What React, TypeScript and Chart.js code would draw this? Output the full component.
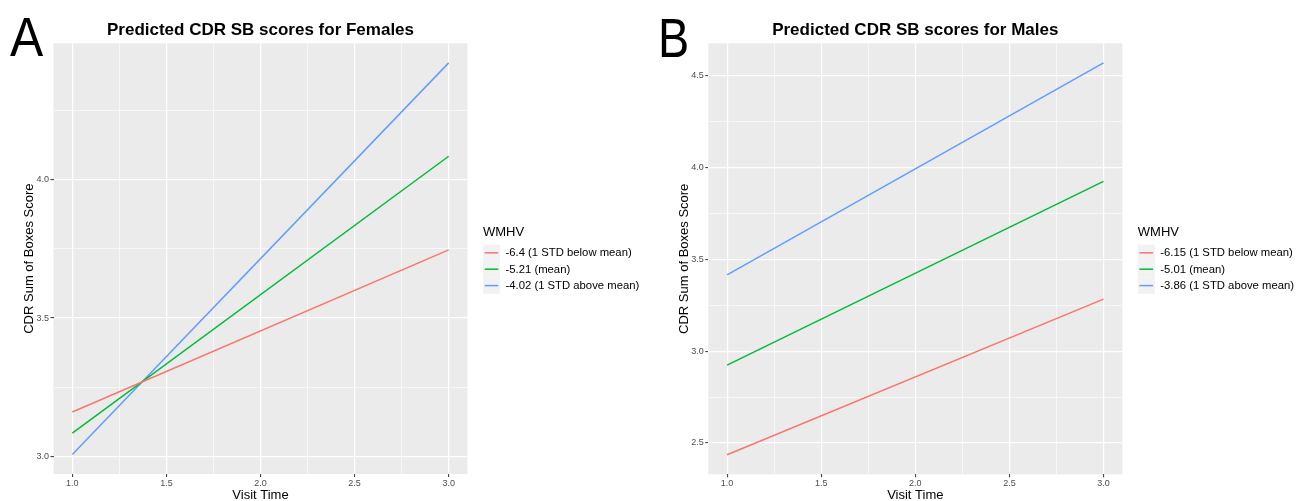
import React, { useEffect, useRef } from 'react';
import { Chart, registerables } from 'chart.js';

Chart.register(...registerables);

// ---------- data ----------
const visitTimes = [1, 3];
const xTicks = [1, 1.25, 1.5, 1.75, 2, 2.25, 2.5, 2.75, 3];
const legendTitle = 'WMHV';
const seriesColors = ['#F8766D', '#00BA38', '#619CFF'];

const femaleTitle = 'Predicted CDR SB scores for Females';
const femaleLabels = ['-6.4 (1 STD below mean)', '-5.21 (mean)', '-4.02 (1 STD above mean)'];
const femaleBelow = [3.161, 3.746];
const femaleMean = [3.085, 4.084];
const femaleAbove = [3.008, 4.421];
const femaleYTicks = [3.0, 3.25, 3.5, 3.75, 4.0, 4.25];

const maleTitle = 'Predicted CDR SB scores for Males';
const maleLabels = ['-6.15 (1 STD below mean)', '-5.01 (mean)', '-3.86 (1 STD above mean)'];
const maleBelow = [2.436, 3.283];
const maleMean = [2.924, 3.924];
const maleAbove = [3.415, 4.569];
const maleYTicks = [2.5, 2.75, 3.0, 3.25, 3.5, 3.75, 4.0, 4.25, 4.5];

const xTitle = 'Visit Time';
const yTitle = 'CDR Sum of Boxes Score';

// ---------- helpers ----------
const FONT = "'Liberation Sans', Arial, sans-serif";
const H = 501;

const isMajor = (v: number) => Math.abs(v * 2 - Math.round(v * 2)) < 1e-6;

function expand(vals: number[]) {
  const mn = Math.min(...vals);
  const mx = Math.max(...vals);
  const pad = (mx - mn) * 0.05;
  return [mn - pad, mx + pad];
}

type PanelCfg = {
  offset: number;
  width: number;
  area: { left: number; right: number; top: number; bottom: number };
  title: string;
  labels: string[];
  series: number[][];
  yTicks: number[];
  letter: string;
};

const panels: PanelCfg[] = [
  {
    offset: 0,
    width: 650,
    area: { left: 53.5, right: 467.5, top: 43.3, bottom: 474 },
    title: femaleTitle,
    labels: femaleLabels,
    series: [femaleBelow, femaleMean, femaleAbove],
    yTicks: femaleYTicks,
    letter: 'A',
  },
  {
    offset: 650,
    width: 656,
    area: { left: 58.3, right: 472.3, top: 43.3, bottom: 474.3 },
    title: maleTitle,
    labels: maleLabels,
    series: [maleBelow, maleMean, maleAbove],
    yTicks: maleYTicks,
    letter: 'B',
  },
];

const bgPlugin = {
  id: 'ggBackground',
  beforeDraw(chart: any) {
    const { ctx, chartArea: a } = chart;
    ctx.save();
    ctx.fillStyle = '#EBEBEB';
    ctx.fillRect(a.left, a.top, a.right - a.left, a.bottom - a.top);
    ctx.restore();
  },
};

const decorPlugin = {
  id: 'ggDecor',
  afterDraw(chart: any, _args: any, opts: any) {
    const { ctx, chartArea: a } = chart;
    ctx.save();
    // title
    ctx.fillStyle = '#000';
    ctx.font = `bold 17px ${FONT}`;
    ctx.textAlign = 'center';
    ctx.textBaseline = 'alphabetic';
    ctx.fillText(opts.title, (a.left + a.right) / 2, 35);
    // x title
    ctx.font = `13px ${FONT}`;
    ctx.fillText(xTitle, (a.left + a.right) / 2, 498.5);
    // y title
    ctx.save();
    ctx.translate(a.left - 20.5, (a.top + a.bottom) / 2);
    ctx.rotate(-Math.PI / 2);
    ctx.fillText(yTitle, 0, 0);
    ctx.restore();
    // legend
    const lx = a.right + 15.5;
    ctx.textAlign = 'left';
    ctx.font = `13px ${FONT}`;
    ctx.fillText(legendTitle, lx, 236);
    const rowH = 16.4;
    const top0 = 244.6;
    chart.data.datasets.forEach((ds: any, i: number) => {
      const y0 = top0 + i * rowH;
      ctx.fillStyle = '#F2F2F2';
      ctx.fillRect(lx, y0, 17, rowH);
      ctx.strokeStyle = ds.borderColor;
      ctx.lineWidth = 1.5;
      ctx.beginPath();
      ctx.moveTo(lx + 1.7, y0 + rowH / 2);
      ctx.lineTo(lx + 15.3, y0 + rowH / 2);
      ctx.stroke();
      ctx.fillStyle = '#000';
      ctx.font = `11.3px ${FONT}`;
      ctx.textBaseline = 'middle';
      ctx.fillText(ds.label, lx + 22.5, y0 + rowH / 2 + 0.5);
    });
    ctx.restore();
  },
};

function Panel({ cfg }: { cfg: PanelCfg }) {
  const ref = useRef<HTMLCanvasElement>(null);
  useEffect(() => {
    const [xmin, xmax] = expand(visitTimes);
    const [ymin, ymax] = expand(cfg.series.flat());
    const { area, width } = cfg;
    const gridWidth = (c: any) => (c.tick && isMajor(c.tick.value) ? 1.2 : 0.6);
    const tickCol = (c: any) => (c.tick && isMajor(c.tick.value) ? '#333333' : 'rgba(0,0,0,0)');
    const label = (v: any) => (isMajor(Number(v)) ? Number(v).toFixed(1) : '');
    const chart = new Chart(ref.current!, {
      type: 'line',
      data: {
        datasets: cfg.series.map((s, i) => ({
          label: cfg.labels[i],
          data: visitTimes.map((x, j) => ({ x, y: s[j] })),
          borderColor: seriesColors[i],
          backgroundColor: seriesColors[i],
          borderWidth: 1.5,
          pointRadius: 0,
          fill: false,
          tension: 0,
        })),
      },
      options: {
        animation: false,
        responsive: false,
        maintainAspectRatio: false,
        devicePixelRatio: 1,
        events: [],
        layout: {
          padding: { left: 0, top: area.top, right: width - area.right, bottom: 0 },
        },
        plugins: {
          legend: { display: false },
          title: { display: false },
          tooltip: { enabled: false },
          ggDecor: { title: cfg.title },
        } as any,
        scales: {
          x: {
            type: 'linear',
            min: xmin,
            max: xmax,
            afterBuildTicks: (s: any) => {
              s.ticks = xTicks.map((v) => ({ value: v }));
            },
            afterFit: (s: any) => {
              s.height = H - area.bottom;
            },
            border: { display: false },
            grid: {
              color: '#FFFFFF',
              lineWidth: gridWidth,
              tickColor: tickCol,
              tickLength: 3,
              tickWidth: 1,
            } as any,
            ticks: {
              autoSkip: false,
              maxRotation: 0,
              padding: 1,
              color: '#4D4D4D',
              font: { family: FONT, size: 9 },
              callback: label,
            },
          },
          y: {
            type: 'linear',
            min: ymin,
            max: ymax,
            afterBuildTicks: (s: any) => {
              s.ticks = cfg.yTicks.map((v) => ({ value: v }));
            },
            afterFit: (s: any) => {
              s.width = area.left;
            },
            border: { display: false },
            grid: {
              color: '#FFFFFF',
              lineWidth: gridWidth,
              tickColor: tickCol,
              tickLength: 3,
              tickWidth: 1,
            } as any,
            ticks: {
              autoSkip: false,
              padding: 1.5,
              color: '#4D4D4D',
              font: { family: FONT, size: 9 },
              callback: label,
            },
          },
        },
      },
      plugins: [bgPlugin, decorPlugin],
    });
    return () => chart.destroy();
  }, [cfg]);
  return (
    <canvas
      ref={ref}
      width={cfg.width}
      height={H}
      style={{ position: 'absolute', left: cfg.offset, top: 0, width: cfg.width, height: H }}
    />
  );
}

export default function App() {
  return (
    <div style={{ position: 'absolute', left: 0, top: 0, width: 1306, height: H, background: '#fff', overflow: 'hidden' }}>
      {panels.map((p) => (
        <Panel key={p.letter} cfg={p} />
      ))}
      <div
        style={{
          position: 'absolute',
          left: 10,
          top: 8.5,
          fontFamily: FONT,
          fontSize: 56,
          lineHeight: '56px',
          color: '#000',
          transform: 'scaleX(0.89)',
          transformOrigin: 'left top',
        }}
      >
        A
      </div>
      <div
        style={{
          position: 'absolute',
          left: 658,
          top: 9.5,
          fontFamily: FONT,
          fontSize: 55,
          lineHeight: '56px',
          color: '#000',
          transform: 'scaleX(0.85)',
          transformOrigin: 'left top',
        }}
      >
        B
      </div>
    </div>
  );
}
